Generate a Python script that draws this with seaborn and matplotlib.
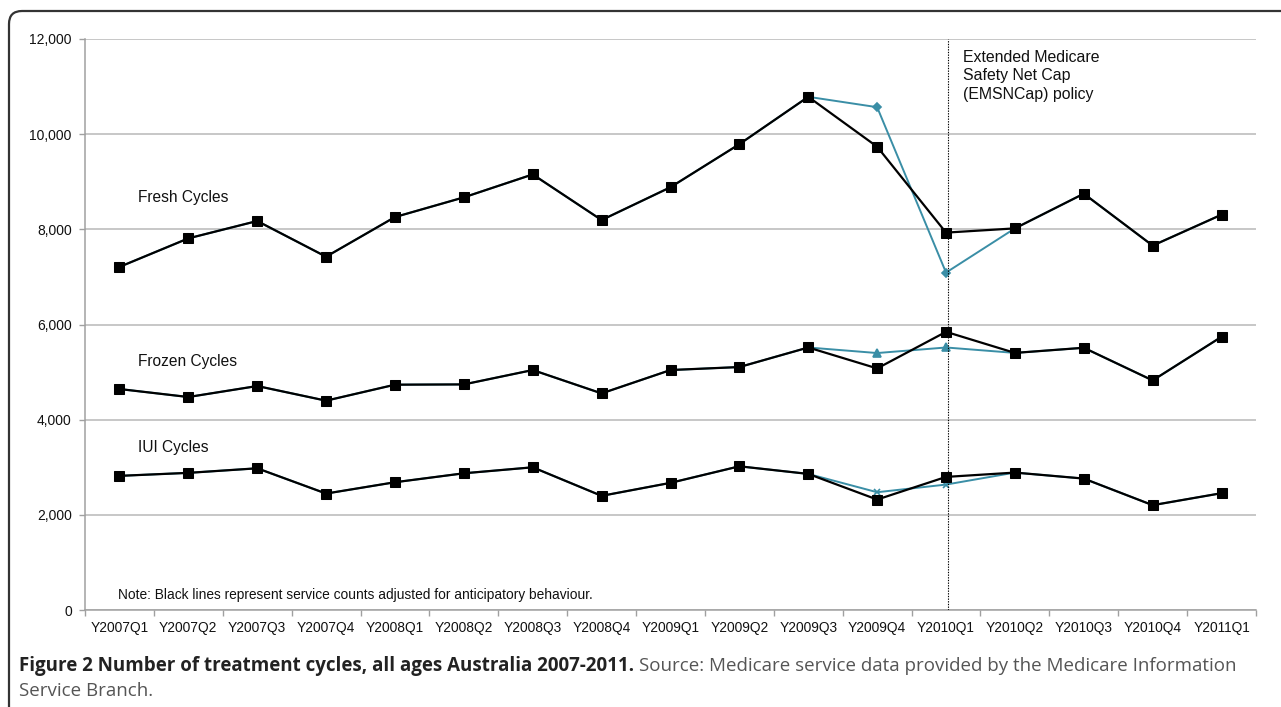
import numpy as np
import pandas as pd
import matplotlib
matplotlib.use("Agg")
import matplotlib.pyplot as plt
import seaborn as sns
from matplotlib.patches import FancyBboxPatch
from matplotlib.ticker import FuncFormatter

quarters = ["Y2007Q1", "Y2007Q2", "Y2007Q3", "Y2007Q4", "Y2008Q1", "Y2008Q2",
            "Y2008Q3", "Y2008Q4", "Y2009Q1", "Y2009Q2", "Y2009Q3", "Y2009Q4",
            "Y2010Q1", "Y2010Q2", "Y2010Q3", "Y2010Q4", "Y2011Q1"]

# adjusted (black) series
fresh_adj = [7210, 7810, 8175, 7425, 8258, 8672, 9154, 8195, 8885, 9790, 10785,
             9736, 7931, 8020, 8749, 7658, 8308]
frozen_adj = [4644, 4476, 4707, 4399, 4735, 4741, 5043, 4552, 5043, 5106, 5517,
              5077, 5846, 5403, 5511, 4825, 5742]
iui_adj = [2819, 2882, 2978, 2447, 2685, 2873, 2999, 2399, 2672, 3020, 2860,
           2321, 2797, 2888, 2762, 2203, 2455]

# observed (blue) series
fresh_obs = [7210, 7810, 8175, 7425, 8258, 8672, 9154, 8195, 8885, 9790, 10785,
             10567, 7091, 8020, 8749, 7658, 8308]
frozen_obs = [4644, 4476, 4707, 4399, 4735, 4741, 5043, 4552, 5043, 5106, 5517,
              5400, 5517, 5403, 5511, 4825, 5742]
iui_obs = [2819, 2882, 2978, 2447, 2685, 2873, 2999, 2399, 2672, 3020, 2860,
           2475, 2636, 2888, 2762, 2203, 2455]

yticks = [0, 2000, 4000, 6000, 8000, 10000, 12000]

sns.set_theme(style="white")
plt.rcParams["font.family"] = ["Liberation Sans", "DejaVu Sans"]

W, H, DPI = 1281, 707, 100
fig = plt.figure(figsize=(W / DPI, H / DPI), dpi=DPI)
ax = fig.add_axes([85 / W, 1 - 610 / H, (1256 - 85) / W, (610 - 39) / H])

x = np.arange(len(quarters))
df = pd.DataFrame({"x": x, "fresh_adj": fresh_adj, "frozen_adj": frozen_adj,
                   "iui_adj": iui_adj, "fresh_obs": fresh_obs,
                   "frozen_obs": frozen_obs, "iui_obs": iui_obs})

blue = "#3a8ea6"
for col, mk, ms in [("fresh_obs", "D", 4), ("frozen_obs", "^", 6), ("iui_obs", "x", 5)]:
    sns.lineplot(data=df, x="x", y=col, ax=ax, color=blue, linewidth=1.4,
                 marker=mk, markersize=ms, markeredgecolor=blue, markeredgewidth=1.2,
                 sort=False, zorder=3)
for col in ["fresh_adj", "frozen_adj", "iui_adj"]:
    sns.lineplot(data=df, x="x", y=col, ax=ax, color="black", linewidth=1.6,
                 marker="s", markersize=6.5, markeredgecolor="black",
                 sort=False, zorder=4)

ax.set_xlim(-0.5, len(quarters) - 0.5)
ax.set_ylim(0, 12000)
ax.set_yticks(yticks)
ax.yaxis.set_major_formatter(FuncFormatter(lambda v, p: f"{int(v):,}"))
ax.grid(axis="y", color="#b8b8b8", linewidth=1.1)
ax.grid(axis="x", visible=False)
ax.set_xticks(np.arange(-0.5, len(quarters), 1))
ax.set_xticklabels([])
ax.set_xticks(x, minor=True)
ax.set_xticklabels(quarters, minor=True)
ax.tick_params(axis="x", which="major", length=4, width=1, color="#a0a0a0", direction="out", bottom=True)
ax.tick_params(axis="x", which="minor", length=0, pad=8, labelsize=9.9, labelcolor="#111111")
ax.tick_params(axis="y", length=4, width=1, color="#a0a0a0", direction="out", left=True,
               pad=5.5, labelsize=10, labelcolor="#111111")
for s in ["top", "right"]:
    ax.spines[s].set_visible(False)
for s in ["left", "bottom"]:
    ax.spines[s].set_color("#a0a0a0")
    ax.spines[s].set_linewidth(1.1)
ax.set_xlabel("")
ax.set_ylabel("")

ax.axvline(12.03, color="black", linestyle=(0, (1.2, 1.2)), linewidth=0.8, zorder=5)

ax.text(0.27, 8660, "Fresh Cycles", fontsize=11.2, va="center", ha="left", color="#111111")
ax.text(0.27, 5212, "Frozen Cycles", fontsize=11.2, va="center", ha="left", color="#111111")
ax.text(0.27, 3405, "IUI Cycles", fontsize=11.2, va="center", ha="left", color="#111111")
ax.text(-0.02, 315, "Note: Black lines represent service counts adjusted for anticipatory behaviour.",
        fontsize=9.9, va="center", ha="left", color="#111111")
ax.text(12.24, 11770, "Extended Medicare\nSafety Net Cap\n(EMSNCap) policy",
        fontsize=11.4, va="top", ha="left", color="#111111", linespacing=1.28)

# frame
frame = FancyBboxPatch((9 / DPI, -0.5), 14, (H - 11) / DPI + 0.5,
                       boxstyle="round,pad=0,rounding_size=0.13",
                       transform=fig.dpi_scale_trans, fill=False,
                       edgecolor="#333333", linewidth=1.6)
fig.patches.append(frame)

# caption
cap_font = ["Open Sans", "DejaVu Sans"]
t1 = fig.text(19 / W, 1 - 666 / H, "Figure 2 Number of treatment cycles, all ages Australia 2007-2011.",
              fontsize=13.5, fontweight="bold", family=cap_font, color="#222222", va="center", ha="left")
fig.canvas.draw()
bb = t1.get_window_extent(renderer=fig.canvas.get_renderer())
fig.text(bb.x1 / W + 5 / W, 1 - 666 / H,
         "Source: Medicare service data provided by the Medicare Information",
         fontsize=13.5, family=cap_font, color="#555555", va="center", ha="left")
fig.text(19 / W, 1 - 691 / H, "Service Branch.", fontsize=13.5, family=cap_font,
         color="#555555", va="center", ha="left")

fig.savefig("out.png", dpi=DPI)
